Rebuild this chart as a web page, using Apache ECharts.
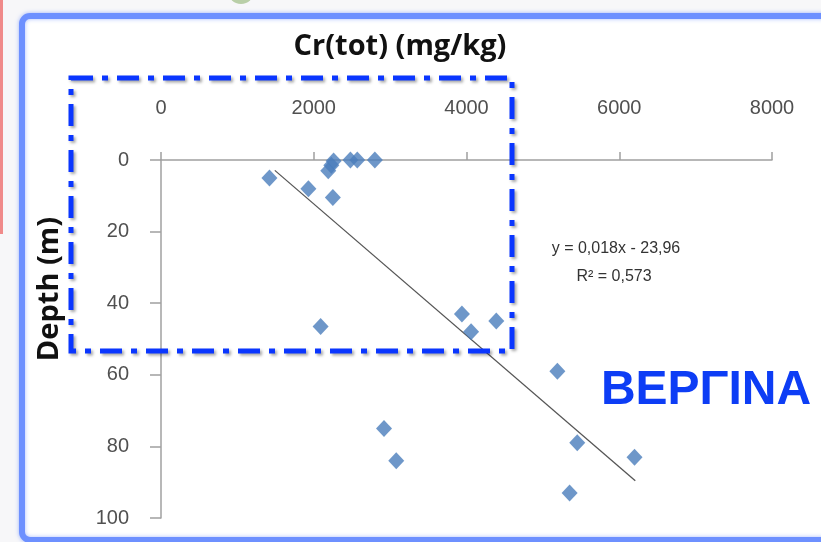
<!DOCTYPE html>
<html>
<head>
<meta charset="utf-8">
<script src="https://cdn.jsdelivr.net/npm/echarts@6/dist/echarts.min.js"></script>
<style>
  html, body { margin: 0; padding: 0; background: #f7f7f9; }
  #chart { width: 821px; height: 542px; }
</style>
</head>
<body>
<div id="chart"></div>
<script>
// Cr(tot) vs depth, Vergina samples
var crTot = [1420, 1930, 2190, 2230, 2260, 2480, 2570, 2800, 2250, 2090, 3940, 4060, 4390, 2920, 3080, 5190, 5450, 6200, 5350];
var depth = [5, 8, 3, 1.5, 0.3, 0, 0, 0, 10.5, 46.5, 43, 48, 45, 75, 84, 59, 79, 83, 93];

// linear trend line ends
var trendX = [1490, 6210];
var trendY = [2.9, 89.6];

var xTicks = [0, 2000, 4000, 6000, 8000];
var yTicks = [0, 20, 40, 60, 80, 100];

var points = crTot.map(function (v, i) { return [v, depth[i]]; });
var trend = trendX.map(function (v, i) { return [v, trendY[i]]; });

var labelFont = 'Liberation Sans, Arial, sans-serif';

var option = {
    backgroundColor: '#f7f7f9',
    animation: false,
    grid: { left: 161, top: 160, width: 611, height: 358 },
    xAxis: {
        type: 'value',
        position: 'top',
        min: xTicks[0],
        max: xTicks[xTicks.length - 1],
        interval: 2000,
        axisLine: { show: true, lineStyle: { color: '#a0a0a0', width: 1.5 } },
        axisTick: { show: true, inside: false, length: 8, lineStyle: { color: '#a0a0a0', width: 1.5 } },
        axisLabel: { margin: 42, fontSize: 20, color: '#505050', fontFamily: labelFont,
                     formatter: function (v) { return String(v); } },
        splitLine: { show: false }
    },
    yAxis: {
        type: 'value',
        inverse: true,
        min: yTicks[0],
        max: yTicks[yTicks.length - 1],
        interval: 20,
        axisLine: { show: true, lineStyle: { color: '#a0a0a0', width: 1.5 } },
        axisTick: { show: true, length: 11, lineStyle: { color: '#a0a0a0', width: 1.5 } },
        axisLabel: { margin: 32, fontSize: 20, color: '#505050', fontFamily: labelFont },
        splitLine: { show: false }
    },
    series: [
        {
            type: 'line',
            data: trend,
            symbol: 'none',
            lineStyle: { color: '#555555', width: 1.3 },
            z: 3
        },
        {
            type: 'scatter',
            data: points,
            symbol: 'diamond',
            symbolSize: [16, 17],
            itemStyle: { color: '#4a7dbb' },
            z: 4
        }
    ],
    graphic: [
        // red edge at far left
        { type: 'rect', shape: { x: 0, y: 0, width: 3, height: 234 },
          style: { fill: '#f08a8a' }, z: -20 },
        // green blob at top
        { type: 'circle', shape: { cx: 241, cy: -9, r: 13 },
          style: { fill: '#b9cfa8' }, z: -20 },
        // light blue frame
        { type: 'rect', shape: { x: 22, y: 16, width: 830, height: 524, r: 8 },
          style: { fill: '#ffffff', stroke: '#6d90ff', lineWidth: 6,
                   shadowColor: 'rgba(90,130,255,0.5)', shadowBlur: 4 }, z: -10 },
        // dash-dot highlight box
        { type: 'rect', shape: { x: 71, y: 78, width: 441, height: 273 },
          style: { fill: null, stroke: '#0a36ff', lineWidth: 5, lineDash: [22, 9, 6, 9],
                   shadowColor: 'rgba(0,0,0,0.35)', shadowBlur: 3, shadowOffsetX: 2, shadowOffsetY: 2 },
          z: 10 },
        { type: 'text', x: 400, y: 47,
          style: { text: 'Cr(tot) (mg/kg)', font: 'bold 29px "Open Sans", "Liberation Sans", sans-serif', fill: '#111111',
                   align: 'center', verticalAlign: 'middle' }, z: 11 },
        { type: 'text', x: 50, y: 289, rotation: Math.PI / 2,
          style: { text: 'Depth (m)', font: 'bold 29px "Open Sans", "Liberation Sans", sans-serif', fill: '#111111',
                   align: 'center', verticalAlign: 'middle' }, z: 11 },
        { type: 'text', x: 616, y: 249,
          style: { text: 'y = 0,018x - 23,96', font: '16px "Liberation Sans", Arial, sans-serif', fill: '#333333',
                   align: 'center', verticalAlign: 'middle' }, z: 11 },
        { type: 'text', x: 614, y: 277,
          style: { text: 'R² = 0,573', font: '16px "Liberation Sans", Arial, sans-serif', fill: '#333333',
                   align: 'center', verticalAlign: 'middle' }, z: 11 },
        { type: 'text', x: 706, y: 391,
          style: { text: 'ΒΕΡΓΙΝΑ', font: 'bold 48px "Liberation Sans", Arial, sans-serif', fill: '#0d3df5',
                   align: 'center', verticalAlign: 'middle' }, z: 11 }
    ]
};

var myChart = echarts.init(document.getElementById('chart'));
myChart.setOption(option);

window.addEventListener('resize', function () {
    myChart.resize();
}, false);
</script>
</body>
</html>
